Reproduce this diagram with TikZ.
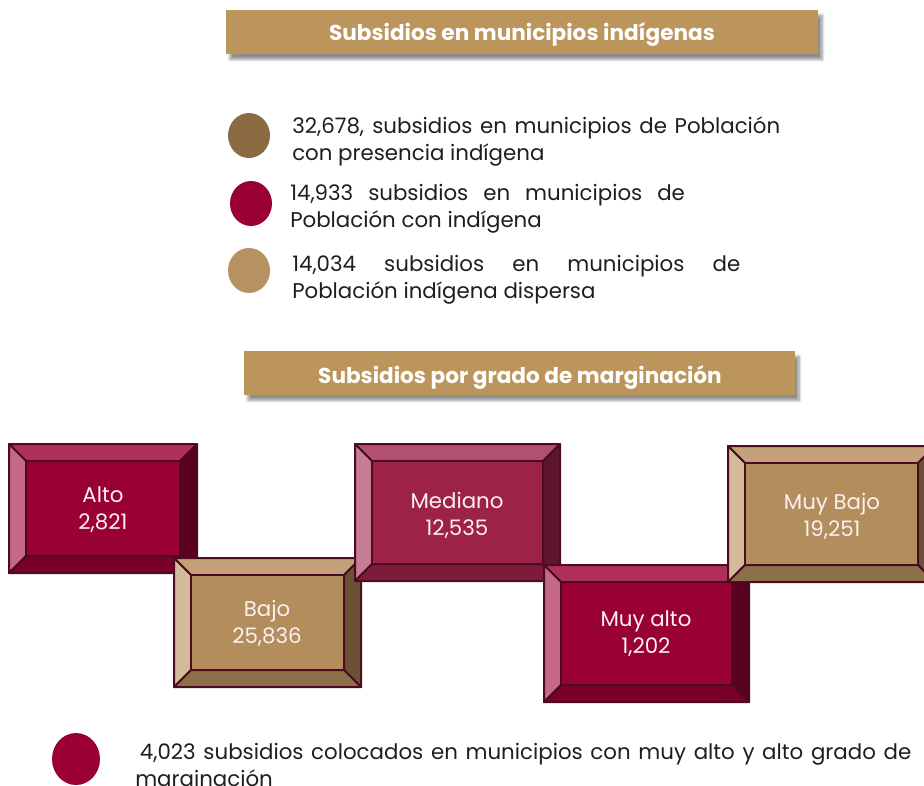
\documentclass[tikz,border=0pt]{standalone}
\usepackage{fontspec}
\setmainfont{Poppins}
\usepackage{tikz}
\usetikzlibrary{shadows.blur}

\begin{document}
\begin{tikzpicture}[x=0.75pt,y=0.75pt,yscale=-1,xscale=1,
    hdr/.style={fill={rgb, 255:red, 187; green, 149; blue, 92 },draw=none,
      blur shadow={shadow xshift=3pt,shadow yshift=-4pt,shadow blur steps=6,shadow opacity=45}},
    hdrtext/.style={text=white,font=\fontsize{16.2}{19}\selectfont\bfseries,inner sep=0.75pt},
    legtext/.style={anchor=base west,inner sep=0pt,align=justify,
      text={rgb, 255:red, 30; green, 30; blue, 30 },font=\fontsize{16}{20.3}\selectfont},
    boxtext/.style={align=center,text={rgb, 255:red, 250; green, 240; blue, 242 },
      font=\fontsize{16}{20.3}\selectfont,inner sep=0.75pt},
    bev/.style={draw={rgb, 255:red, 76; green, 11; blue, 34 },line width=1.5,line join=round},
    % crimson bevel
    rFace/.style={bev,fill={rgb, 255:red, 153; green, 0; blue, 51 }},
    rTop/.style={bev,fill={rgb, 255:red, 176; green, 48; blue, 89 }},
    rLeft/.style={bev,fill={rgb, 255:red, 196; green, 106; blue, 135 }},
    rRight/.style={bev,fill={rgb, 255:red, 90; green, 0; blue, 32 }},
    rBot/.style={bev,fill={rgb, 255:red, 120; green, 0; blue, 42 }},
    % mediano bevel
    mFace/.style={bev,fill={rgb, 255:red, 157; green, 35; blue, 70 }},
    mTop/.style={bev,fill={rgb, 255:red, 178; green, 80; blue, 112 }},
    mLeft/.style={bev,fill={rgb, 255:red, 198; green, 125; blue, 147 }},
    mRight/.style={bev,fill={rgb, 255:red, 94; green, 21; blue, 48 }},
    mBot/.style={bev,fill={rgb, 255:red, 125; green, 28; blue, 58 }},
    % gold bevel
    gFace/.style={bev,fill={rgb, 255:red, 179; green, 141; blue, 92 }},
    gTop/.style={bev,fill={rgb, 255:red, 195; green, 162; blue, 123 }},
    gLeft/.style={bev,fill={rgb, 255:red, 211; green, 186; blue, 154 }},
    gRight/.style={bev,fill={rgb, 255:red, 107; green, 82; blue, 54 }},
    gBot/.style={bev,fill={rgb, 255:red, 141; green, 111; blue, 73 }}]

\clip (0,0) rectangle (924,785);

%Shape: Rectangle (header indigenas)
\draw [hdr] (226,10) rectangle (818,54) ;
\draw (522,35) node [hdrtext] (hdrIndig) {Subsidios en municipios indígenas};

%Shape: Ellipse
\draw [draw=none,fill={rgb, 255:red, 139; green, 107; blue, 66 }] (249,135.5) ellipse (21 and 22.5) ;
%Shape: Ellipse
\draw [draw=none,fill={rgb, 255:red, 155; green, 0; blue, 50 }] (251,203.5) ellipse (21 and 22.5) ;
%Shape: Ellipse
\draw [draw=none,fill={rgb, 255:red, 182; green, 146; blue, 98 }] (249,270.5) ellipse (21 and 22.5) ;

% Text Node
\draw (292,133) node [legtext,text width=366pt] (presencia) {32,678, subsidios en municipios de Población con presencia indígena};
% Text Node
\draw (290,200) node [legtext,text width=296pt] (conIndig) {14,933 subsidios en municipios de Población con indígena};
% Text Node
\draw (292,271) node [legtext,text width=336pt] (dispersa) {14,034 subsidios en municipios de Población indígena dispersa};

%Shape: Rectangle (header marginacion)
\draw [hdr] (244,351) rectangle (795,395) ;
\draw (520,377) node [hdrtext] (hdrMarg) {Subsidios por grado de marginación};

%Shape: Bevel [Alto]
\draw [rTop] (9,444) -- (197,444) -- (180,461) -- (26,461) -- cycle ;
\draw [rLeft] (9,444) -- (26,461) -- (26,556) -- (9,573) -- cycle ;
\draw [rRight] (197,444) -- (197,573) -- (180,556) -- (180,461) -- cycle ;
\draw [rBot] (9,573) -- (197,573) -- (180,556) -- (26,556) -- cycle ;
\draw [rFace] (26,461) rectangle (180,556) ;
\draw (103,510) node [boxtext] (alto) {Alto\\2,821};

%Shape: Bevel [Bajo]
\draw [gTop] (174,558) -- (361,558) -- (344,575) -- (191,575) -- cycle ;
\draw [gLeft] (174,558) -- (191,575) -- (191,670) -- (174,687) -- cycle ;
\draw [gRight] (361,558) -- (361,687) -- (344,670) -- (344,575) -- cycle ;
\draw [gBot] (174,687) -- (361,687) -- (344,670) -- (191,670) -- cycle ;
\draw [gFace] (191,575) rectangle (344,670) ;
\draw (267,623) node [boxtext] (bajo) {Bajo\\25,836};

%Shape: Bevel [Mediano]
\draw [mTop] (355,444) -- (560,444) -- (543,461) -- (372,461) -- cycle ;
\draw [mLeft] (355,444) -- (372,461) -- (372,564) -- (355,581) -- cycle ;
\draw [mRight] (560,444) -- (560,581) -- (543,564) -- (543,461) -- cycle ;
\draw [mBot] (355,581) -- (560,581) -- (543,564) -- (372,564) -- cycle ;
\draw [mFace] (372,461) rectangle (543,564) ;
\draw (457,515) node [boxtext] (mediano) {Mediano\\12,535};

%Shape: Bevel [Muy alto]
\draw [rTop] (544,565) -- (749,565) -- (732,582) -- (561,582) -- cycle ;
\draw [rLeft] (544,565) -- (561,582) -- (561,685) -- (544,702) -- cycle ;
\draw [rRight] (749,565) -- (749,702) -- (732,685) -- (732,582) -- cycle ;
\draw [rBot] (544,702) -- (749,702) -- (732,685) -- (561,685) -- cycle ;
\draw [rFace] (561,582) rectangle (732,685) ;
\draw (646,634) node [boxtext] (muyAlto) {Muy alto\\1,202};

%Shape: Bevel [Muy Bajo]
\draw [gTop] (728,446) -- (935,446) -- (918,463) -- (745,463) -- cycle ;
\draw [gLeft] (728,446) -- (745,463) -- (745,565) -- (728,582) -- cycle ;
\draw [gRight] (935,446) -- (935,582) -- (918,565) -- (918,463) -- cycle ;
\draw [gBot] (728,582) -- (935,582) -- (918,565) -- (745,565) -- cycle ;
\draw [gFace] (745,463) rectangle (918,565) ;
\draw (832,516) node [boxtext] (muyBajo) {Muy Bajo\\19,251};

%Shape: Ellipse
\draw [draw=none,fill={rgb, 255:red, 155; green, 0; blue, 50 }] (76,759) ellipse (24 and 26) ;
% Text Node
\draw (135,759) node [legtext,text width=582pt] (muyAltoAlto) {\hspace*{3.5pt}4,023 subsidios colocados en municipios con muy alto y alto grado de marginación};

\end{tikzpicture}
\end{document}
